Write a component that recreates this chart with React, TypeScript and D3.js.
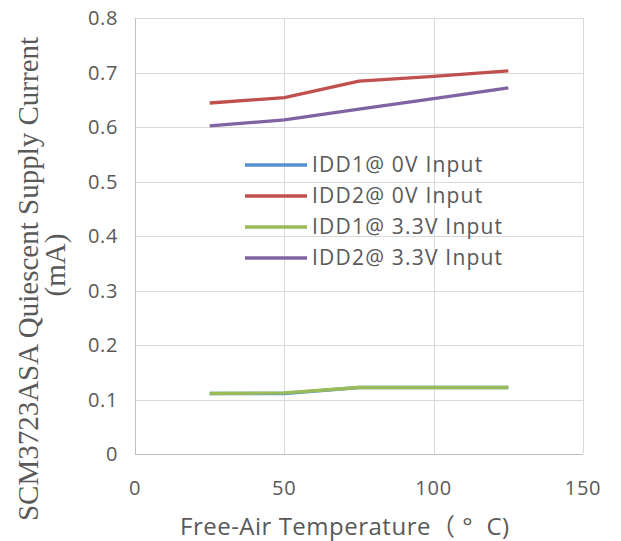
import React, { useRef, useEffect } from "react";
import * as d3 from "d3";

// temperatures (°C) measured
const temps = [25, 50, 75, 100, 125];

// quiescent supply current (mA)
const idd1At0V = [0.111, 0.111, 0.122, 0.122, 0.122];
const idd2At0V = [0.644, 0.654, 0.684, 0.693, 0.703];
const idd1At33V = [0.111, 0.112, 0.122, 0.122, 0.122];
const idd2At33V = [0.602, 0.613, 0.633, 0.652, 0.672];

const seriesNames = [
  "IDD1@ 0V Input",
  "IDD2@ 0V Input",
  "IDD1@ 3.3V Input",
  "IDD2@ 3.3V Input",
];
const seriesColors = ["#5592ce", "#c0504d", "#9bbb59", "#8064a2"];

const xTicks = [0, 50, 100, 150];
const yTicks = [0, 0.1, 0.2, 0.3, 0.4, 0.5, 0.6, 0.7, 0.8];

const W = 621;
const H = 541;
const textColor = "#595959";
const sans = "'Open Sans', 'Noto Sans CJK SC', sans-serif";

export default function App() {
  const svgRef = useRef<SVGSVGElement>(null);

  useEffect(() => {
    drawChart();
  }, []);

  function drawChart() {
    const svg = d3.select(svgRef.current);
    svg.selectAll("*").remove();

    const xScale = d3.scaleLinear().domain([0, 150]).range([135, 583]);
    const yScale = d3.scaleLinear().domain([0, 0.8]).range([454, 18]);

    // grid
    const grid = svg.append("g").attr("stroke", "#d9d9d9").attr("stroke-width", 1);
    grid
      .selectAll("line.h")
      .data(yTicks)
      .join("line")
      .attr("class", "h")
      .attr("x1", xScale(0))
      .attr("x2", xScale(150))
      .attr("y1", (d) => Math.round(yScale(d)) + 0.5)
      .attr("y2", (d) => Math.round(yScale(d)) + 0.5);
    grid
      .selectAll("line.v")
      .data(xTicks)
      .join("line")
      .attr("class", "v")
      .attr("x1", (d) => Math.round(xScale(d)) + 0.5)
      .attr("x2", (d) => Math.round(xScale(d)) + 0.5)
      .attr("y1", yScale(0.8))
      .attr("y2", yScale(0));

    // axis lines
    svg
      .append("line")
      .attr("x1", xScale(0))
      .attr("x2", xScale(150))
      .attr("y1", Math.round(yScale(0)) + 0.5)
      .attr("y2", Math.round(yScale(0)) + 0.5)
      .attr("stroke", "#bfbfbf");
    svg
      .append("line")
      .attr("x1", Math.round(xScale(0)) + 0.5)
      .attr("x2", Math.round(xScale(0)) + 0.5)
      .attr("y1", yScale(0.8))
      .attr("y2", yScale(0))
      .attr("stroke", "#bfbfbf");

    // tick labels
    svg
      .append("g")
      .selectAll("text")
      .data(yTicks)
      .join("text")
      .attr("x", 118)
      .attr("y", (d) => yScale(d))
      .attr("dy", "0.35em")
      .attr("text-anchor", "end")
      .attr("font-family", sans)
      .attr("font-size", 20)
      .attr("letter-spacing", 0.6)
      .attr("fill", textColor)
      .text((d) => (d === 0 ? "0" : d3.format(".1f")(d)));

    svg
      .append("g")
      .selectAll("text")
      .data(xTicks)
      .join("text")
      .attr("x", (d) => xScale(d))
      .attr("y", 495)
      .attr("text-anchor", "middle")
      .attr("font-family", sans)
      .attr("font-size", 20)
      .attr("letter-spacing", 0.8)
      .attr("fill", textColor)
      .text((d) => d);

    // lines
    const allSeries = [idd1At0V, idd2At0V, idd1At33V, idd2At33V];
    const line = d3
      .line<number>()
      .x((_, i) => xScale(temps[i]))
      .y((d) => yScale(d));

    allSeries.forEach((vals, i) => {
      svg
        .append("path")
        .datum(vals)
        .attr("fill", "none")
        .attr("stroke", seriesColors[i])
        .attr("stroke-width", 3.3)
        .attr("stroke-linejoin", "round")
        .attr("d", line);
    });

    // legend
    const legend = svg
      .append("g")
      .selectAll("g")
      .data(seriesNames)
      .join("g")
      .attr("transform", (_, i) => `translate(245,${165 + i * 31})`);
    legend
      .append("line")
      .attr("x1", 0)
      .attr("x2", 62)
      .attr("stroke", (_, i) => seriesColors[i])
      .attr("stroke-width", 3.3);
    legend
      .append("text")
      .attr("x", 67)
      .attr("dy", "0.35em")
      .attr("font-family", sans)
      .attr("font-size", 21)
      .attr("letter-spacing", 1.2)
      .attr("fill", textColor)
      .text((d) => d);

    // axis titles
    svg
      .append("text")
      .attr("x", 180)
      .attr("y", 535)
      .attr("font-family", sans)
      .attr("font-size", 24)
      .attr("letter-spacing", 0.5)
      .attr("fill", textColor)
      .style("white-space", "pre")
      .text("Free-Air Temperature（ °  C)");

    svg
      .append("text")
      .attr("transform", "translate(38,279) rotate(-90)")
      .attr("text-anchor", "middle")
      .attr("font-family", "'Liberation Serif', 'Times New Roman', serif")
      .attr("font-size", 29)
      .attr("fill", textColor)
      .text("SCM3723ASA Quiescent Supply Current");
    svg
      .append("text")
      .attr("transform", "translate(65,265) rotate(-90)")
      .attr("text-anchor", "middle")
      .attr("font-family", "'Liberation Serif', 'Times New Roman', serif")
      .attr("font-size", 29)
      .attr("fill", textColor)
      .text("(mA)");
  }

  return (
    <div style={{ position: "absolute", left: 0, top: 0 }}>
      <svg ref={svgRef} width={W} height={H} style={{ display: "block", background: "#fff" }} />
    </div>
  );
}
